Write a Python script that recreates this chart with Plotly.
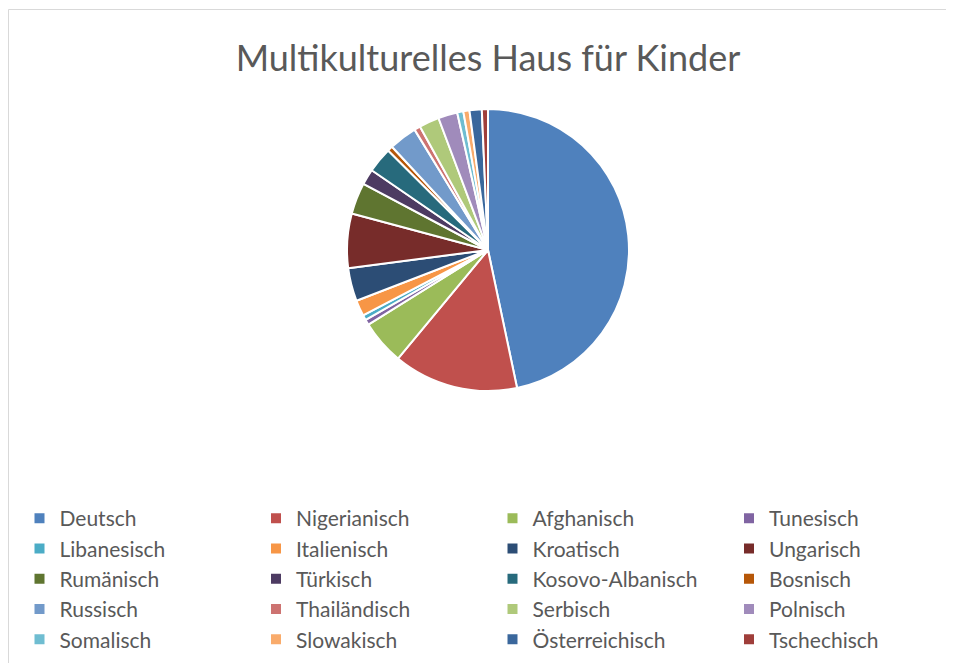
import plotly.graph_objects as go

categories = ["Deutsch", "Nigerianisch", "Afghanisch", "Tunesisch", "Libanesisch",
              "Italienisch", "Kroatisch", "Ungarisch", "Rumänisch", "Türkisch",
              "Kosovo-Albanisch", "Bosnisch", "Russisch", "Thailändisch", "Serbisch",
              "Polnisch", "Somalisch", "Slowakisch", "Österreichisch", "Tschechisch"]
values = [46.6, 14.3, 5.1, 0.6, 0.6, 1.8, 3.8, 6.2, 3.6, 1.8,
          2.9, 0.6, 3.2, 0.7, 2.3, 2.2, 0.7, 0.7, 1.4, 0.7]
colors = ["#4F81BD", "#C0504D", "#9BBB59", "#8064A2", "#4BACC6", "#F79646",
          "#2C4D75", "#772C2A", "#5F7530", "#4D3B62", "#276A7C", "#B65708",
          "#729ACA", "#CD7371", "#AFC97A", "#A08BBB", "#6FBDD1", "#F9AB6B",
          "#3A679C", "#9F3E3A"]
title = "Multikulturelles Haus für Kinder"

OFF = 8  # page body margin
W, H = 954 - OFF, 663 - OFF
cx, cy, r = 488 - OFF, 250 - OFF, 141

fig = go.Figure(go.Pie(
    labels=categories, values=values, sort=False, direction="clockwise",
    rotation=0, textinfo="none", hoverinfo="label+percent",
    marker=dict(colors=colors, line=dict(color="white", width=2)),
    domain=dict(x=[(cx - r) / W, (cx + r) / W], y=[(H - cy - r) / H, (H - cy + r) / H]),
))

fig.update_layout(
    width=W, height=H, margin=dict(l=0, r=0, t=0, b=0, autoexpand=False),
    paper_bgcolor="white", plot_bgcolor="white",
    font=dict(family="Lato", color="#595959"),
    title=dict(text=title, x=cx / W, xanchor="center", y=1 - 50 / H, yanchor="middle",
               font=dict(size=36, color="#595959", family="Lato")),
    showlegend=True,
    legend=dict(orientation="h", x=11.5 / W, xanchor="left", y=1 - 490 / H, yanchor="top",
                entrywidth=0.25, entrywidthmode="fraction",
                font=dict(size=21, color="#595959", family="Lato"),
                traceorder="normal"),
    shapes=[dict(type="rect", xref="paper", yref="paper", x0=0.5 / W, x1=1.02,
                 y0=-0.02, y1=1 - 1.5 / H, line=dict(color="#D9D9D9", width=1),
                 fillcolor="rgba(0,0,0,0)", layer="below")],
)

fig.write_html("out.html")
